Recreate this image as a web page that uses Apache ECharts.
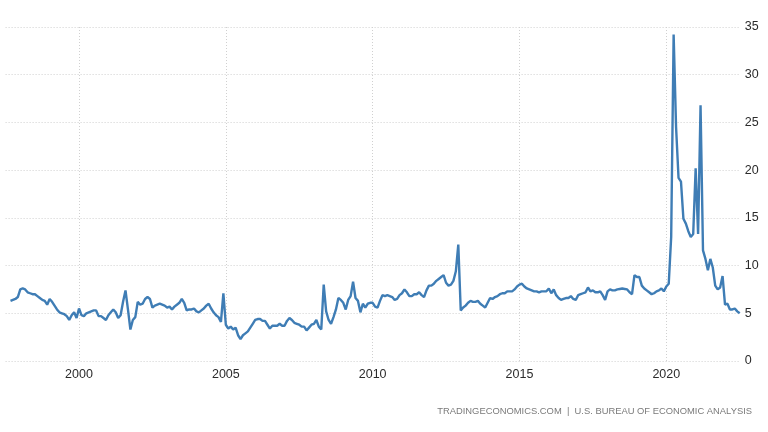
<!DOCTYPE html>
<html>
<head>
<meta charset="utf-8">
<script src="https://cdn.jsdelivr.net/npm/echarts@6/dist/echarts.min.js"></script>
<style>
html,body{margin:0;padding:0;background:#ffffff;}
#chart{width:768px;height:432px;}
</style>
</head>
<body>
<div id="chart"></div>
<script>
// First category month of the axis (July 1997); values run Jan..Dec per year
const firstYear = 1997;
const firstMonth = 7;

const y1997 = [null, null, 6.3, 6.4, 6.5, 6.7]; // Jul–Dec
const y1998 = [7.5, 7.6, 7.5, 7.2, 7.1, 7.0, 7.0, 6.8, 6.6, 6.4, 6.3, 5.9];
const y1999 = [6.5, 6.2, 5.8, 5.4, 5.1, 5.0, 4.9, 4.7, 4.3, 4.8, 5.1, 4.5];
const y2000 = [5.5, 4.8, 4.7, 5.0, 5.1, 5.2, 5.3, 5.3, 4.7, 4.7, 4.5, 4.3];
const y2001 = [4.8, 5.1, 5.4, 5.1, 4.5, 4.8, 6.2, 7.4, 5.4, 3.3, 4.3, 4.6];
const y2002 = [6.2, 5.9, 6.0, 6.5, 6.7, 6.5, 5.6, 5.8, 5.9, 6.0, 5.9, 5.8];
const y2003 = [5.6, 5.7, 5.4, 5.7, 5.9, 6.1, 6.5, 6.1, 5.3, 5.4, 5.4, 5.5];
const y2004 = [5.2, 5.1, 5.3, 5.5, 5.8, 6.0, 5.5, 5.1, 4.8, 4.6, 4.1, 7.1];
const y2005 = [3.8, 3.4, 3.6, 3.3, 3.5, 2.7, 2.3, 2.7, 2.9, 3.1, 3.5, 3.9];
const y2006 = [4.3, 4.4, 4.4, 4.2, 4.2, 3.8, 3.4, 3.7, 3.7, 3.7, 3.9, 3.7];
const y2007 = [3.7, 4.2, 4.5, 4.3, 4.0, 3.9, 3.8, 3.6, 3.6, 3.2, 3.5, 3.8];
const y2008 = [3.9, 4.3, 3.6, 3.3, 8.0, 5.2, 4.3, 3.9, 4.6, 5.4, 6.6, 6.4];
const y2009 = [6.1, 5.4, 6.4, 6.8, 8.3, 6.6, 6.3, 5.1, 6.0, 5.6, 6.0, 6.1];
const y2010 = [6.1, 5.7, 5.6, 6.3, 6.9, 6.8, 6.9, 6.8, 6.7, 6.4, 6.5, 6.9];
const y2011 = [7.1, 7.5, 7.2, 6.8, 6.8, 7.0, 7.0, 7.2, 6.9, 6.7, 7.4, 7.9];
const y2012 = [7.9, 8.1, 8.4, 8.6, 8.8, 9.0, 8.2, 7.9, 8.0, 8.4, 9.4, 12.2];
const y2013 = [5.3, 5.6, 5.8, 6.1, 6.3, 6.2, 6.2, 6.3, 6.0, 5.8, 5.6, 6.1];
const y2014 = [6.6, 6.5, 6.7, 6.8, 7.0, 7.1, 7.1, 7.3, 7.3, 7.3, 7.5, 7.8];
const y2015 = [8.0, 8.1, 7.8, 7.6, 7.5, 7.4, 7.3, 7.3, 7.2, 7.3, 7.3, 7.3];
const y2016 = [7.6, 7.1, 7.5, 6.9, 6.6, 6.4, 6.5, 6.6, 6.6, 6.8, 6.5, 6.4];
const y2017 = [6.9, 7.0, 7.1, 7.2, 7.7, 7.3, 7.4, 7.2, 7.2, 7.3, 6.9, 6.4];
const y2018 = [7.3, 7.5, 7.4, 7.4, 7.5, 7.55, 7.6, 7.55, 7.5, 7.2, 7.0, 9.0];
const y2019 = [8.8, 8.8, 7.9, 7.6, 7.4, 7.2, 7.0, 7.1, 7.3, 7.4, 7.6, 7.3];
const y2020 = [7.8, 8.1, 13.0, 34.2, 24.5, 19.2, 18.8, 14.9, 14.4, 13.6, 13.0, 13.3];
const y2021 = [20.2, 13.3, 26.8, 11.6, 10.7, 9.5, 10.7, 9.8, 7.9, 7.5, 7.7, 8.9];
const y2022 = [5.9, 6.0, 5.4, 5.4, 5.5, 5.2, 5.0];

const tickYears = [2000, 2005, 2010, 2015, 2020];
const yMin = 0, yMax = 35, yStep = 5;
const sourceText = 'TRADINGECONOMICS.COM  |  U.S. BUREAU OF ECONOMIC ANALYSIS';

const values = [].concat(y1997, y1998, y1999, y2000, y2001, y2002, y2003, y2004,
  y2005, y2006, y2007, y2008, y2009, y2010, y2011, y2012, y2013, y2014, y2015,
  y2016, y2017, y2018, y2019, y2020, y2021, y2022);

const categories = values.map(function (_, i) {
  const m0 = firstMonth - 1 + i;
  const yr = firstYear + Math.floor(m0 / 12);
  const mo = (m0 % 12) + 1;
  return yr + '-' + (mo < 10 ? '0' + mo : mo);
});

function isTick(index, value) {
  const parts = value.split('-');
  return parts[1] === '01' && tickYears.indexOf(+parts[0]) >= 0;
}

const chart = echarts.init(document.getElementById('chart'), null, {renderer: 'canvas'});
chart.setOption({
  animation: false,
  backgroundColor: '#ffffff',
  grid: {left: 5.6, right: 28.3, top: 27, bottom: 71, containLabel: false},
  xAxis: {
    type: 'category',
    data: categories,
    boundaryGap: false,
    axisLine: {show: false},
    axisTick: {show: false},
    axisLabel: {
      interval: isTick,
      formatter: function (v) { return v.split('-')[0]; },
      color: '#2b2b2b',
      fontSize: 12.5,
      fontFamily: 'Liberation Sans, Arial, sans-serif',
      margin: 7
    },
    splitLine: {
      show: true,
      interval: isTick,
      lineStyle: {color: '#d0d0d0', type: [1, 2], width: 1}
    }
  },
  yAxis: {
    type: 'value',
    position: 'right',
    min: yMin, max: yMax, interval: yStep,
    axisLine: {show: false},
    axisTick: {show: false},
    axisLabel: {
      color: '#2b2b2b',
      fontSize: 12.5,
      fontFamily: 'Liberation Sans, Arial, sans-serif',
      margin: 5
    },
    splitLine: {lineStyle: {color: '#d0d0d0', type: [1, 2], width: 1}}
  },
  graphic: [{
    type: 'text',
    right: 16,
    top: 407,
    style: {
      text: sourceText,
      fill: '#7a7a7a',
      font: '9.4px "Liberation Sans", Arial, sans-serif'
    }
  }],
  series: [{
    type: 'line',
    data: values,
    showSymbol: false,
    symbol: 'none',
    lineStyle: {color: '#3f7db5', width: 2.4},
    itemStyle: {color: '#3f7db5'}
  }]
});
</script>
</body>
</html>
